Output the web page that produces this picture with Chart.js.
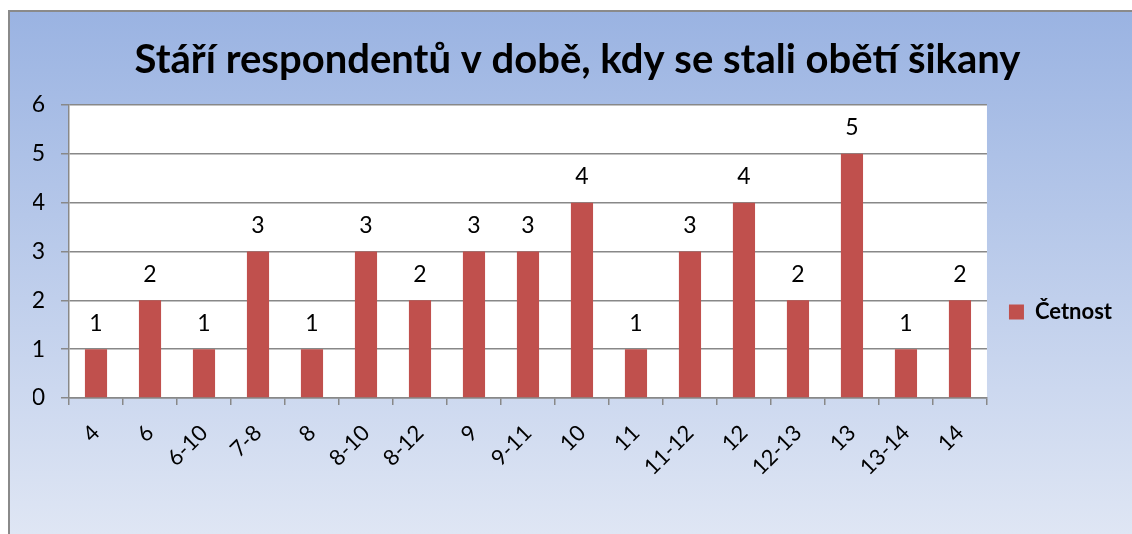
<!DOCTYPE html>
<html>
<head>
<meta charset="utf-8">
<script src="https://cdn.jsdelivr.net/npm/chart.js@4/dist/chart.umd.min.js"></script>
<style>
  html, body { margin: 0; padding: 0; background: #fff; }
</style>
</head>
<body>
<canvas id="ageChart" width="1132" height="534"></canvas>
<script>
const chartTitle = 'Stáří respondentů v době, kdy se stali obětí šikany';
const seriesName = 'Četnost';
const categories = ['4', '6', '6-10', '7-8', '8', '8-10', '8-12', '9', '9-11', '10', '11', '11-12', '12', '12-13', '13', '13-14', '14'];
const counts = [1, 2, 1, 3, 1, 3, 2, 3, 3, 4, 1, 3, 4, 2, 5, 1, 2];
const yMin = 0;
const yMax = 6;
const yStep = 1;

const FONT = 'Lato, "Open Sans", sans-serif';

// gradient frame behind everything, white plot area
const framePlugin = {
  id: 'frame',
  beforeDraw(chart) {
    const { ctx, chartArea, width, height } = chart;
    ctx.save();
    ctx.fillStyle = '#fff';
    ctx.fillRect(0, 0, width, height);
    const g = ctx.createLinearGradient(0, 10, 0, height);
    g.addColorStop(0, '#9ab3e2');
    g.addColorStop(1, '#dfe6f4');
    ctx.fillStyle = g;
    ctx.fillRect(9, 11, width, height);
    ctx.strokeStyle = '#8a8a8a';
    ctx.lineWidth = 2;
    ctx.beginPath();
    ctx.moveTo(9, height);
    ctx.lineTo(9, 11);
    ctx.lineTo(width, 11);
    ctx.stroke();
    ctx.fillStyle = '#fff';
    ctx.fillRect(chartArea.left, chartArea.top, chartArea.right - chartArea.left, chartArea.bottom - chartArea.top);
    ctx.restore();
  }
};

// legend sits in the space below the title
const legendShift = {
  id: 'legendShift',
  afterLayout(chart) {
    if (chart.legend) chart.legend.top = 90;
  }
};

// value above each bar
const valueLabels = {
  id: 'valueLabels',
  afterDatasetsDraw(chart) {
    const { ctx } = chart;
    const meta = chart.getDatasetMeta(0);
    ctx.save();
    ctx.font = '23px ' + FONT;
    ctx.fillStyle = '#000';
    ctx.textAlign = 'center';
    ctx.textBaseline = 'middle';
    meta.data.forEach((bar, i) => {
      ctx.fillText(String(counts[i]), bar.x, bar.y - 26);
    });
    ctx.restore();
  }
};

new Chart(document.getElementById('ageChart'), {
  type: 'bar',
  data: {
    labels: categories,
    datasets: [{
      label: seriesName,
      data: counts,
      backgroundColor: '#c0504d',
      borderWidth: 0,
      categoryPercentage: 1,
      barPercentage: 0.41
    }]
  },
  options: {
    responsive: false,
    animation: false,
    devicePixelRatio: 1,
    layout: { padding: { left: 33, right: 10, top: 0, bottom: 0 } },
    plugins: {
      title: {
        display: true,
        text: chartTitle,
        color: '#000',
        font: { family: FONT, size: 40, weight: 'bold' },
        padding: { top: 36, bottom: 21 }
      },
      legend: {
        position: 'right',
        labels: {
          color: '#000',
          font: { family: FONT, size: 22, weight: 'bold' },
          boxWidth: 15,
          boxHeight: 15,
          padding: 22
        }
      },
      tooltip: { enabled: false }
    },
    scales: {
      x: {
        grid: { drawOnChartArea: false, color: '#888', lineWidth: 1.5, tickLength: 7, offset: true },
        border: { color: '#888', width: 1.5 },
        ticks: {
          color: '#000',
          font: { family: FONT, size: 22 },
          minRotation: 45,
          maxRotation: 45,
          autoSkip: false,
          padding: 15
        },
        afterFit(scale) { scale.height = 136; }
      },
      y: {
        min: yMin,
        max: yMax,
        grid: { color: '#888', lineWidth: 1.5, tickLength: 8 },
        border: { color: '#888', width: 1.5 },
        ticks: {
          stepSize: yStep,
          color: '#000',
          font: { family: FONT, size: 23 },
          padding: 16
        },
        afterFit(scale) { scale.width = 36; }
      }
    }
  },
  plugins: [framePlugin, legendShift, valueLabels]
});
</script>
</body>
</html>
